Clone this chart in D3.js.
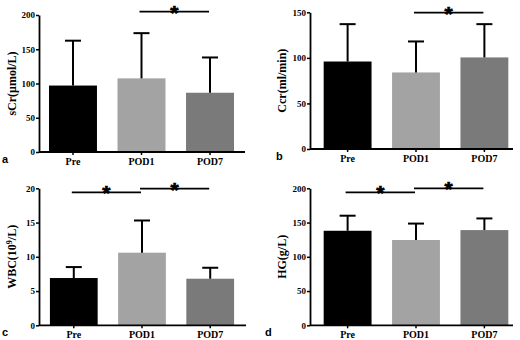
<!DOCTYPE html>
<html>
<head>
<meta charset="utf-8">
<script src="https://cdn.jsdelivr.net/npm/d3@7"></script>
<style>
  body { margin: 0; background: #fff; }
  svg text { font-family: "Liberation Serif", "Times New Roman", serif; font-weight: bold; }
</style>
</head>
<body>
<div id="chart"></div>
<script>
var categories = ["Pre", "POD1", "POD7"];
var barColors = ["#000000", "#a3a3a3", "#7a7a7a"];

var sCrMean = [97, 107.5, 86.5];
var sCrSD = [65.5, 66, 51.5];
var sCrTicks = [0, 50, 100, 150, 200];
var sCrSig = [{from: "POD1", to: "POD7", level: 205}];

var CcrMean = [96, 84, 100.5];
var CcrSD = [41, 34, 36.5];
var CcrTicks = [0, 50, 100, 150];
var CcrSig = [{from: "POD1", to: "POD7", level: 149.6}];

var WBCMean = [6.9, 10.6, 6.8];
var WBCSD = [1.6, 4.7, 1.6];
var WBCTicks = [0, 5, 10, 15, 20];
var WBCSig = [{from: "Pre", to: "POD1", level: 19.4}, {from: "POD1", to: "POD7", level: 19.95}];

var HGMean = [138, 124.5, 139];
var HGSD = [22, 24, 17];
var HGTicks = [0, 50, 100, 150, 200];
var HGSig = [{from: "Pre", to: "POD1", level: 194}, {from: "POD1", to: "POD7", level: 200}];

var svg = d3.select("#chart").append("svg")
  .attr("width", 520)
  .attr("height", 340);

// one panel: axis position in px, data + labels
function drawPanel(p) {
  var g = svg.append("g");

  var y = d3.scaleLinear()
    .domain([0, p.ticks[p.ticks.length - 1]])
    .range([p.bottom, p.top]);

  var x = d3.scaleBand()
    .domain(categories)
    .range([p.left, p.left + p.bandWidth])
    .paddingInner(0.3)
    .paddingOuter(p.padOuter);

  // bars
  g.selectAll(".bar")
    .data(p.mean)
    .enter()
    .append("rect")
    .attr("x", function(d, i) { return x(categories[i]); })
    .attr("y", function(d) { return y(d); })
    .attr("width", x.bandwidth())
    .attr("height", function(d) { return y(0) - y(d); })
    .style("fill", function(d, i) { return barColors[i]; });

  // error bars (upper only)
  var cap = 8;
  p.mean.forEach(function(m, i) {
    var cx = x(categories[i]) + x.bandwidth() / 2;
    var top = y(m + p.sd[i]);
    g.append("line")
      .attr("x1", cx).attr("x2", cx)
      .attr("y1", y(m)).attr("y2", top)
      .style("stroke", "#000").style("stroke-width", 2);
    g.append("line")
      .attr("x1", cx - cap).attr("x2", cx + cap)
      .attr("y1", top).attr("y2", top)
      .style("stroke", "#000").style("stroke-width", 2);
  });

  // y axis
  var yAxis = g.append("g")
    .attr("transform", "translate(" + p.left + ",0)")
    .call(d3.axisLeft(y).tickValues(p.ticks).tickSize(3).tickSizeOuter(0));
  yAxis.select(".domain").style("stroke", "#000").style("stroke-width", 1.8);
  yAxis.selectAll(".tick line").style("stroke", "#000").style("stroke-width", 1.5);
  yAxis.selectAll(".tick text")
    .attr("x", -4)
    .style("font-size", "9px")
    .style("font-family", "Liberation Serif, serif")
    .style("font-weight", "bold")
    .style("fill", "#000");

  // x axis
  var xAxis = g.append("g")
    .attr("transform", "translate(0," + p.bottom + ")")
    .call(d3.axisBottom(x).tickSize(3).tickSizeOuter(0));
  xAxis.select(".domain").remove();
  xAxis.selectAll(".tick line").style("stroke", "#000").style("stroke-width", 1.5);
  xAxis.selectAll(".tick text")
    .attr("y", 6)
    .style("font-size", "10px")
    .style("font-family", "Liberation Serif, serif")
    .style("font-weight", "bold")
    .style("fill", "#000");
  g.append("line")
    .attr("x1", p.left).attr("x2", p.axisEnd)
    .attr("y1", p.bottom).attr("y2", p.bottom)
    .style("stroke", "#000").style("stroke-width", 1.8);

  // y label
  var lab = g.append("text")
    .attr("transform", "translate(" + p.labelX + "," + ((p.top + p.bottom) / 2) + ") rotate(-90)")
    .attr("text-anchor", "middle")
    .style("font-size", "12px")
    .style("fill", "#000");
  p.label(lab);

  // significance bars
  p.sig.forEach(function(s) {
    var x1 = x(s.from) + x.bandwidth() / 2 - 2;
    var x2 = x(s.to) + x.bandwidth() / 2 - 1;
    var sy = y(s.level);
    g.append("line")
      .attr("x1", x1).attr("x2", x2)
      .attr("y1", sy).attr("y2", sy)
      .style("stroke", "#000").style("stroke-width", 1.8);
    g.append("text")
      .attr("x", (x1 + x2) / 2)
      .attr("y", sy + 8)
      .attr("text-anchor", "middle")
      .style("font-family", "Liberation Sans, Arial, sans-serif")
      .style("font-weight", "bold")
      .style("font-size", "21px")
      .style("fill", "#000")
      .style("stroke", "#000")
      .style("stroke-width", 0.7)
      .text("*");
  });

  // panel letter
  g.append("text")
    .attr("x", p.letterX)
    .attr("y", p.bottom + 11)
    .style("font-family", "Liberation Sans, Arial, sans-serif")
    .style("font-size", "11px")
    .style("fill", "#000")
    .text(p.letter);
}

drawPanel({
  mean: sCrMean, sd: sCrSD, ticks: sCrTicks, sig: sCrSig,
  left: 39, top: 15, bottom: 152, bandWidth: 205, padOuter: 0.146, axisEnd: 245,
  labelX: 16, letter: "a", letterX: 2,
  label: function(t) { t.text("sCr(\u03bcmol/L)"); }
});

drawPanel({
  mean: CcrMean, sd: CcrSD, ticks: CcrTicks, sig: CcrSig,
  left: 310, top: 12.3, bottom: 149, bandWidth: 212, padOuter: 0.2, axisEnd: 513,
  labelX: 286, letter: "b", letterX: 276,
  label: function(t) { t.text("Ccr(ml/min)"); }
});

drawPanel({
  mean: WBCMean, sd: WBCSD, ticks: WBCTicks, sig: WBCSig,
  left: 39, top: 188.3, bottom: 325.3, bandWidth: 206, padOuter: 0.16, axisEnd: 246,
  labelX: 16, letter: "c", letterX: 2,
  label: function(t) {
    t.append("tspan").text("WBC(10");
    t.append("tspan").attr("dy", -4).style("font-size", "8px").text("9");
    t.append("tspan").attr("dy", 4).text("/L)");
  }
});

drawPanel({
  mean: HGMean, sd: HGSD, ticks: HGTicks, sig: HGSig,
  left: 310, top: 188.3, bottom: 325.3, bandWidth: 212, padOuter: 0.2, axisEnd: 513,
  labelX: 286, letter: "d", letterX: 265,
  label: function(t) { t.text("HG(g/L)"); }
});
</script>
</body>
</html>
